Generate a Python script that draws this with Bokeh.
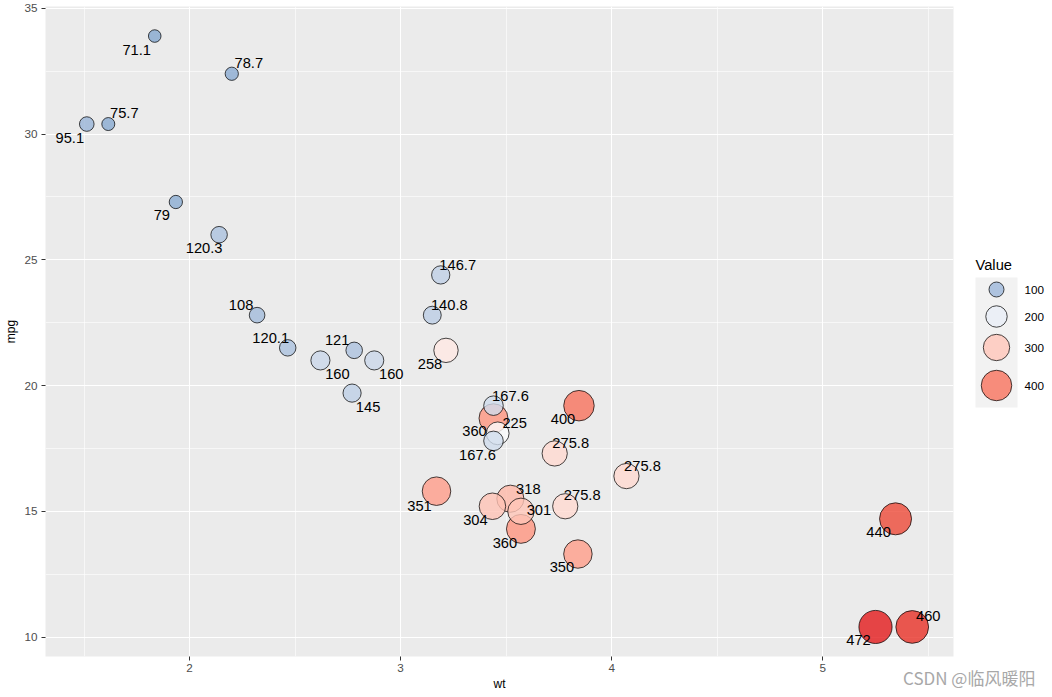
import numpy as np
from bokeh.plotting import figure
from bokeh.models import Range1d, FixedTicker, ColumnDataSource, Div
from bokeh.layouts import column, row
from bokeh.embed import file_html
from bokeh.resources import INLINE
from bokeh.core.properties import value

# ---- data (mtcars) ----
wt = [2.620, 2.875, 2.320, 3.215, 3.440, 3.460, 3.570, 3.190, 3.150, 3.440, 3.440,
      4.070, 3.730, 3.780, 5.250, 5.424, 5.345, 2.200, 1.615, 1.835, 2.465, 3.520,
      3.435, 3.840, 3.845, 1.935, 2.140, 1.513, 3.170, 2.770, 3.570, 2.780]
mpg = [21.0, 21.0, 22.8, 21.4, 18.7, 18.1, 14.3, 24.4, 22.8, 19.2, 17.8,
       16.4, 17.3, 15.2, 10.4, 10.4, 14.7, 32.4, 30.4, 33.9, 21.5, 15.5,
       15.2, 13.3, 19.2, 27.3, 26.0, 30.4, 15.8, 19.7, 15.0, 21.4]
disp = [160, 160, 108, 258, 360, 225, 360, 146.7, 140.8, 167.6, 167.6,
        275.8, 275.8, 275.8, 472, 460, 440, 78.7, 75.7, 71.1, 120.1, 318,
        304, 350, 400, 79, 120.3, 95.1, 351, 145, 301, 121]
x_ticks = [2, 3, 4, 5]
x_minor_ticks = [1.5, 2.5, 3.5, 4.5, 5.5]
y_ticks = [10, 15, 20, 25, 30, 35]
y_minor_ticks = [12.5, 17.5, 22.5, 27.5, 32.5]
legend_breaks = [100, 200, 300, 400]
legend_title = "Value"
watermark = "CSDN @临风暖阳"

# label nudges (screen px), one per point
label_dx = [17, 17, -16, -16, -19, 17, -16, 17, 17, 17, -16,
            16, 16, 17, -17, 16, -17, 17, 16, -18, -17, 18,
            -17, -16, -16, -14, -15, -17, -17, 16, 18, -17]
label_dy = [14, 14, -10, 14, 13, -10, 14, -10, -10, -10, 14,
            -10, -10, -11, 13, -11, 13, -11, -11, 14, -10, -10,
            14, 13, 13, 13, 13, 14, 15, 14, -1, -10]

# ---- colour scale (gradient2 in Lab) ----
M = np.array([[0.4124564, 0.3575761, 0.1804375],
              [0.2126729, 0.7151522, 0.0721750],
              [0.0193339, 0.1191920, 0.9503041]])
MI = np.linalg.inv(M)
WP = np.array([0.95047, 1.0, 1.08883])


def _lin(c):
    c = c / 255
    return c / 12.92 if c <= 0.04045 else ((c + 0.055) / 1.055) ** 2.4


def _gam(c):
    c = min(1.0, max(0.0, c))
    c = 12.92 * c if c <= 0.0031308 else 1.055 * c ** (1 / 2.4) - 0.055
    return int(min(255, max(0, round(c * 255))))


def hex2lab(h):
    rgb = np.array([_lin(int(h[i:i + 2], 16)) for i in (1, 3, 5)])
    xyz = M @ rgb / WP
    f = np.where(xyz > (6 / 29) ** 3, np.cbrt(xyz), xyz / (3 * (6 / 29) ** 2) + 4 / 29)
    return np.array([116 * f[1] - 16, 500 * (f[0] - f[1]), 200 * (f[1] - f[2])])


def lab2hex(lab):
    L, a, b = lab
    fy = (L + 16) / 116
    f = np.array([fy + a / 500, fy, fy - b / 200])
    xyz = np.where(f > 6 / 29, f ** 3, 3 * (6 / 29) ** 2 * (f - 4 / 29)) * WP
    rgb = MI @ xyz
    return "#" + "".join(f"{_gam(c):02x}" for c in rgb)


LOW, MID, HIGH = hex2lab("#377EB8"), hex2lab("#FFFFFF"), hex2lab("#E41A1C")
midpoint = float(np.mean(disp))
span = max(max(disp) - midpoint, midpoint - min(disp))


def fill_of(v):
    t = 0.5 + (v - midpoint) / span / 2
    if t < 0.5:
        lab = LOW + (MID - LOW) * (t / 0.5)
    else:
        lab = MID + (HIGH - MID) * ((t - 0.5) / 0.5)
    return lab2hex(lab)


def size_of(v):
    return 1.55 * np.sqrt(v) - 0.5


# ---- layout ----
W, H = 1052, 697
PL, PR, PT, PB = 45, 953, 6, 656      # panel pixel box
MAIN_W = 960
xmin, xmax = min(wt), max(wt)
ymin, ymax = min(mpg), max(mpg)
xpad, ypad = 0.05 * (xmax - xmin), 0.05 * (ymax - ymin)

FONT = "Liberation Sans"

p = figure(width=MAIN_W, height=H,
           x_range=Range1d(xmin - xpad, xmax + xpad),
           y_range=Range1d(ymin - ypad, ymax + ypad),
           output_backend="svg", toolbar_location=None,
           min_border_left=PL, min_border_right=MAIN_W - PR, min_border_top=PT,
           min_border_bottom=H - PB, background_fill_color="#EBEBEB",
           border_fill_color="white", outline_line_color=None)

# axes + grid
for ax, ticks, minor in ((p.xaxis, x_ticks, x_minor_ticks),
                         (p.yaxis, y_ticks, y_minor_ticks)):
    ax.ticker = FixedTicker(ticks=ticks, minor_ticks=minor)
    ax.axis_line_color = None
    ax.major_tick_in = 0
    ax.major_tick_out = 4
    ax.minor_tick_line_color = None
    ax.major_tick_line_color = "#333333"
    ax.major_tick_line_width = 1
    ax.major_label_text_font = FONT
    ax.major_label_text_font_size = "11.7px"
    ax.major_label_text_color = "#4D4D4D"
    ax.axis_label_text_font = FONT
    ax.axis_label_text_font_size = "12px"
    ax.axis_label_text_font_style = "normal"
    ax.axis_label_text_color = "black"
p.xgrid.ticker = FixedTicker(ticks=x_ticks, minor_ticks=x_minor_ticks)
p.ygrid.ticker = FixedTicker(ticks=y_ticks, minor_ticks=y_minor_ticks)
p.grid.grid_line_color = "white"
p.grid.grid_line_width = 1.1
p.grid.minor_grid_line_color = "white"
p.grid.minor_grid_line_width = 0.6
p.xaxis.major_label_standoff = 3
p.yaxis.major_label_standoff = 4
p.xaxis.axis_label = "wt"
p.yaxis.axis_label = "mpg"
p.xaxis.axis_label_standoff = 2
p.yaxis.axis_label_standoff = 3

# points
src = ColumnDataSource(dict(
    wt=wt, mpg=mpg, disp=disp,
    lbl=[f"{v:g}" for v in disp],
    sz=[size_of(v) for v in disp],
    fill=[fill_of(v) for v in disp],
    dx=label_dx, dy=label_dy))
p.scatter(x="wt", y="mpg", size="sz", fill_color="fill", fill_alpha=0.8,
          line_color="black", line_alpha=0.8, line_width=0.9, source=src)
p.text(x="wt", y="mpg", text="lbl", x_offset="dx", y_offset="dy", source=src,
       text_align="center", text_baseline="middle", text_color="black",
       text_font=value(FONT), text_font_size=value("14.7px"))

# ---- legend panel (page pixel coordinates; its frame is aligned with the main one) ----
lf = figure(width=W - MAIN_W, height=H, x_range=Range1d(MAIN_W, W),
            y_range=Range1d(PB, PT), output_backend="svg", toolbar_location=None,
            x_axis_type=None, y_axis_type=None, min_border=0,
            background_fill_color="white", border_fill_color="white",
            outline_line_color=None)
lf.grid.visible = False
lf.quad(left=[975], right=[1017], bottom=[407], top=[277],
        fill_color="#F2F2F2", line_color=None)
key_y = [289, 316, 347, 385]
leg = ColumnDataSource(dict(
    x=[996] * len(legend_breaks), y=key_y,
    lx=[1024] * len(legend_breaks),
    sz=[size_of(v) for v in legend_breaks],
    fill=[fill_of(v) for v in legend_breaks],
    lbl=[str(v) for v in legend_breaks]))
lf.scatter(x="x", y="y", size="sz", fill_color="fill", fill_alpha=0.8,
           line_color="black", line_alpha=0.8, line_width=0.9, source=leg)
lf.text(x="lx", y="y", text="lbl", source=leg, text_align="left",
        text_baseline="middle", text_color="black", text_font=value(FONT),
        text_font_size=value("11.7px"))
lf.text(x=[975], y=[264], text=[legend_title], text_align="left",
        text_baseline="middle", text_color="black", text_font=value(FONT),
        text_font_size=value("14.7px"))

# watermark, laid over the bottom-right corner
wm = Div(text=watermark, styles={
    "position": "absolute", "left": "898px", "top": "661px",
    "color": "#A8A8A8", "font-size": "17px",
    "font-family": "'Noto Sans CJK SC', sans-serif",
    "white-space": "nowrap", "z-index": "10"})

layout = column(row(p, lf), wm)
open("out.html", "w").write(file_html(layout, INLINE))
